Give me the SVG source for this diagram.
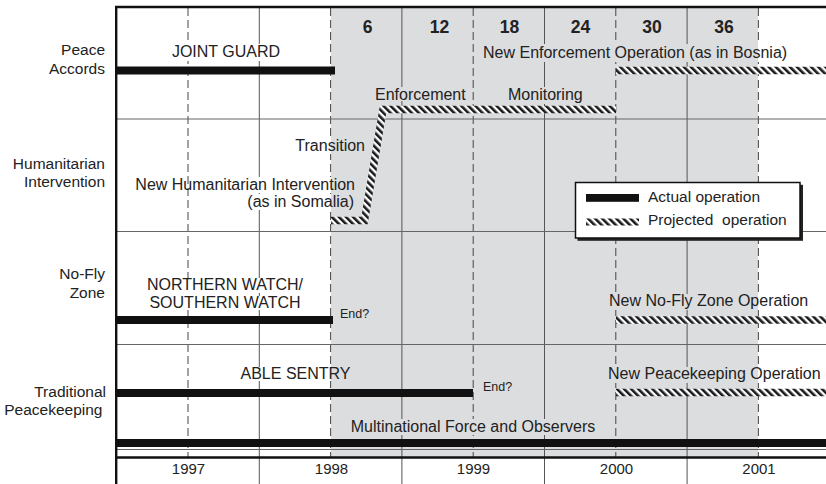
<svg xmlns="http://www.w3.org/2000/svg" width="826" height="484" viewBox="0 0 826 484">
<style>
  text { font-family: "Liberation Sans", Arial, Helvetica, sans-serif; fill: #222; }
  .lbl { font-size: 15.5px; text-anchor: end; }
  .t { font-size: 16px; }
  .c { text-anchor: middle; }
  .e { text-anchor: end; }
  .end { font-size: 12.5px; }
  .hdr { font-size: 17.5px; font-weight: bold; text-anchor: middle; }
  .yr { font-size: 15px; text-anchor: middle; }
  .solid { stroke: #555; stroke-width: 1; fill: none; }
  .dash { stroke: #444; stroke-width: 1; stroke-dasharray: 8 4; fill: none; }
  .row { stroke: #666; stroke-width: 1; fill: none; }
  .bar { stroke: #111; stroke-width: 8; fill: none; }
  .proj { stroke: url(#hatch); stroke-width: 7.5; fill: none; }
</style>
<defs>
  <pattern id="hatch" patternUnits="userSpaceOnUse" width="5" height="5" patternTransform="rotate(-45)">
    <rect width="5" height="5" fill="#fff"/>
    <rect width="2.6" height="5" fill="#1a1a1a"/>
  </pattern>
  <mask id="textgaps" maskUnits="userSpaceOnUse" x="0" y="0" width="826" height="484">
    <rect x="0" y="0" width="826" height="484" fill="#fff"/>
    <g fill="#000">
      <rect x="171" y="44" width="110" height="17"/>
      <rect x="482" y="44" width="306" height="18"/>
      <rect x="374" y="87" width="91" height="14"/>
      <rect x="507" y="87" width="77" height="17"/>
      <rect x="295" y="137" width="72" height="17"/>
      <rect x="200" y="177" width="157" height="16"/>
      <rect x="248" y="194" width="108" height="16"/>
      <rect x="145" y="278" width="161" height="15"/>
      <rect x="148" y="296" width="154" height="14"/>
      <rect x="339" y="308" width="32" height="12"/>
      <rect x="607" y="294" width="201" height="16"/>
      <rect x="239" y="367" width="113" height="14"/>
      <rect x="481" y="380" width="33" height="13"/>
      <rect x="606" y="367" width="214" height="16"/>
      <rect x="349" y="419" width="248" height="16"/>
    </g>
  </mask>
</defs>

<!-- shaded projection period -->
<rect x="331" y="8" width="427" height="449" fill="#dcdddf"/>

<g id="grid">
  <g mask="url(#textgaps)">
    <path class="solid" d="M259.3,7 V484 M401.9,7 V484 M544.5,7 V484 M687.1,7 V484"/>
    <path class="dash" d="M188,8 V457 M330.6,8 V457 M473.2,8 V457 M615.8,8 V457 M758.4,8 V457"/>
  </g>
  <path class="row" d="M117,119 H826 M117,231.5 H826 M117,344.5 H826 M117,449.5 H826"/>
  <path d="M117,457.5 H826" stroke="#111" stroke-width="2.5" fill="none"/>
  <path d="M116.2,6 V484" stroke="#111" stroke-width="2.4" fill="none"/>
  <path d="M115,7 H826" stroke="#111" stroke-width="2.5" fill="none"/>
</g>

<g id="headers">
  <text class="hdr" x="367.5" y="32.5">6</text>
  <text class="hdr" x="439.5" y="32.5">12</text>
  <text class="hdr" x="509.5" y="32.5">18</text>
  <text class="hdr" x="580.5" y="32.5">24</text>
  <text class="hdr" x="652" y="32.5">30</text>
  <text class="hdr" x="724" y="32.5">36</text>
</g>

<g id="row-labels">
  <text class="lbl" x="105" y="55">Peace</text>
  <text class="lbl" x="105" y="74">Accords</text>
  <text class="lbl" x="105" y="168.5">Humanitarian</text>
  <text class="lbl" x="105" y="187">Intervention</text>
  <text class="lbl" x="105" y="279">No-Fly</text>
  <text class="lbl" x="105" y="297.5">Zone</text>
  <text class="lbl" x="106" y="396.5">Traditional</text>
  <text class="lbl" x="102.5" y="414.5">Peacekeeping</text>
</g>

<g id="connectors">
  <!-- actual operations -->
  <path class="bar" d="M117,70.5 H335"/>
  <path class="bar" d="M117,320 H333"/>
  <path class="bar" d="M117,393 H473"/>
  <path class="bar" d="M117,443 H826"/>
  <!-- projected operations -->
  <path class="proj" d="M616,70.5 H826"/>
  <path class="proj" d="M331,220.5 H364.5 L383,109.5 H616" stroke-linejoin="miter"/>
  <path class="proj" d="M616,320 H826"/>
  <path class="proj" d="M616,392.5 H826"/>
</g>

<g id="op-peace">
  <text class="t c" x="226" y="57">JOINT GUARD</text>
  <text class="t" x="483" y="57.5">New Enforcement Operation (as in Bosnia)</text>
  <text class="t" x="375" y="99.5">Enforcement</text>
  <text class="t" x="508" y="99.5">Monitoring</text>
</g>
<g id="op-humanitarian">
  <text class="t e" x="365" y="150.5">Transition</text>
  <text class="t e" x="355" y="189.5">New Humanitarian Intervention</text>
  <text class="t e" x="354" y="206.5">(as in Somalia)</text>
</g>
<g id="op-nofly">
  <text class="t c" x="225" y="290">NORTHERN WATCH/</text>
  <text class="t c" x="225" y="308.3">SOUTHERN WATCH</text>
  <text class="end" x="340" y="318.3">End?</text>
  <text class="t" x="609" y="306">New No-Fly Zone Operation</text>
</g>
<g id="op-peacekeeping">
  <text class="t c" x="295.5" y="379">ABLE SENTRY</text>
  <text class="end" x="483" y="390.5">End?</text>
  <text class="t" x="608" y="379.3">New Peacekeeping Operation</text>
  <text class="t c" x="473" y="431.7">Multinational Force and Observers</text>
</g>

<g id="years">
  <text class="yr" x="188.5" y="473.5">1997</text>
  <text class="yr" x="331.5" y="473.5">1998</text>
  <text class="yr" x="473.5" y="473.5">1999</text>
  <text class="yr" x="616.5" y="473.5">2000</text>
  <text class="yr" x="759" y="473.5">2001</text>
</g>

<g id="legend">
  <rect x="577.5" y="184.8" width="225.5" height="56" fill="#222"/>
  <rect x="575.5" y="182.5" width="224.5" height="55.5" fill="#fff" stroke="#111" stroke-width="1.5"/>
  <rect x="586" y="194" width="53" height="7.8" fill="#111"/>
  <text class="t" x="648" y="201.7" style="font-size:15.5px">Actual operation</text>
  <rect x="586" y="218.5" width="53" height="7" fill="url(#hatch)"/>
  <text class="t" x="648" y="225.2" style="font-size:15.5px;white-space:pre" xml:space="preserve">Projected  operation</text>
</g>
</svg>
